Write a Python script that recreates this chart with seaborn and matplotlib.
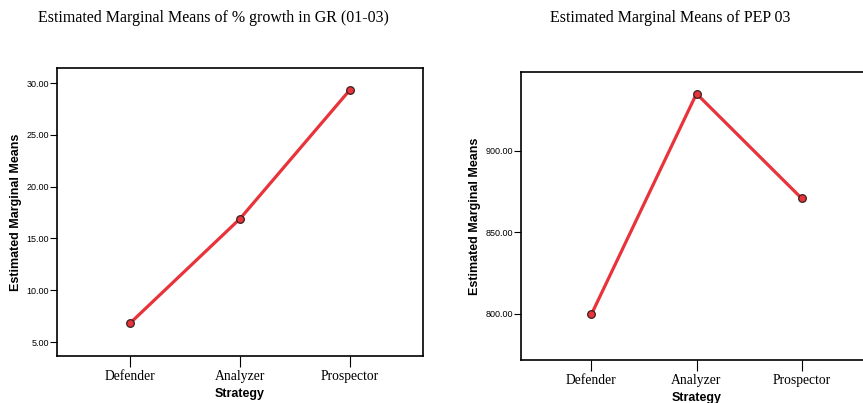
import numpy as np
import pandas as pd
import matplotlib
matplotlib.use("Agg")
import matplotlib.pyplot as plt
import seaborn as sns

# data
strategy = ["Defender", "Analyzer", "Prospector"]
growth_gr = [6.85, 16.9, 29.3]
pep_03 = [799.6, 935.0, 870.8]

sns.set_theme(style="white")
plt.rcParams['font.family'] = ['Liberation Sans', 'DejaVu Sans']
plt.rcParams['text.color'] = 'black'
plt.rcParams['axes.labelcolor'] = 'black'
plt.rcParams['xtick.color'] = 'black'
plt.rcParams['ytick.color'] = 'black'

line_col = "#e8333b"

fig = plt.figure(figsize=(8.63, 4.03), dpi=100)
W, H = 863, 403

def px_axes(left, top, right, bottom):
    return fig.add_axes([left / W, 1 - bottom / H, (right - left) / W, (bottom - top) / H])

ax1 = px_axes(57, 68, 423, 356)
ax2 = px_axes(521, 72, 872, 360)

panels = [
    (ax1, growth_gr, (3.65, 31.45), [5, 10, 15, 20, 25, 30]),
    (ax2, pep_03, (771.6, 948.3), [800, 850, 900]),
]

for ax, vals, ylim, yticks in panels:
    df = pd.DataFrame({"Strategy": strategy, "val": vals})
    sns.lineplot(data=df, x="Strategy", y="val", sort=False, ax=ax,
                 color=line_col, linewidth=2.3, marker="o", markersize=5.5,
                 markerfacecolor=line_col, markeredgecolor="#3a2020",
                 markeredgewidth=0.9)
    ax.set_xlim(-0.67, 2.67)
    ax.set_ylim(*ylim)
    ax.set_yticks(yticks)
    ax.set_yticklabels([f"{t:.2f}" for t in yticks], fontsize=6.5)
    ax.set_xticks(range(len(strategy)))
    ax.set_xticklabels(strategy, fontsize=9.8, family="Liberation Serif")
    ax.tick_params(axis="y", left=True, direction="out", length=5, width=0.8, pad=1)
    ax.tick_params(axis="x", bottom=True, direction="out", length=8, width=0.8, pad=2)
    ax.set_xlabel("Strategy", fontsize=9, fontweight="bold", labelpad=4)
    ax.set_ylabel("Estimated Marginal Means", fontsize=9, fontweight="bold", labelpad=3)
    for s in ax.spines.values():
        s.set_color("black")
        s.set_linewidth(1.2)

ax2.spines["right"].set_visible(False)

fig.text(213 / W, 1 - 18 / H, "Estimated Marginal Means of % growth in GR (01-03)",
         ha="center", va="center", fontsize=11.5, family="Liberation Serif")
fig.text(670 / W, 1 - 18 / H, "Estimated Marginal Means of PEP 03",
         ha="center", va="center", fontsize=11.5, family="Liberation Serif")

fig.savefig("out.png", dpi=100)
